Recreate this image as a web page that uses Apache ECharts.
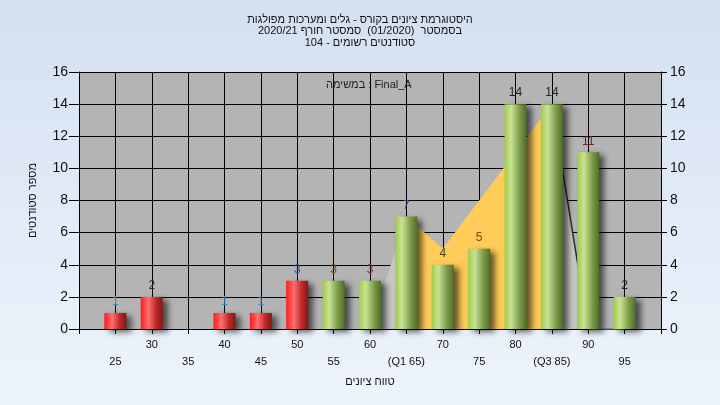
<!DOCTYPE html>
<html>
<head>
<meta charset="utf-8">
<script src="https://cdn.jsdelivr.net/npm/echarts@6/dist/echarts.min.js"></script>
<style>
html,body{margin:0;padding:0;}
#c{width:720px;height:405px;}
</style>
</head>
<body>
<div id="c"></div>
<script>
// ---- data ----
var gradeBins = [25, 30, 35, 40, 45, 50, 55, 60, 65, 70, 75, 80, 85, 90, 95];
var studentCounts = [1, 2, 0, 1, 1, 3, 3, 3, 7, 4, 5, 14, 14, 11, 2];
var passThreshold = 55;
var xTickValues = [25, 30, 35, 40, 45, 50, 55, 60, 65, 70, 75, 80, 85, 90, 95];
var xTickLabels = ['25', '30', '35', '40', '45', '50', '55', '60', '(Q1 65)', '70', '75', '80', '(Q3 85)', '90', '95'];
var shapeX = [60, 65, 70, 85, 90, 95];
var shapeY = [0, 7, 5, 14, 0, 0];
var q1 = 65, q3 = 85;
var titleLines = ['היסטוגרמת ציונים בקורס - גלים ומערכות מפולגות', 'בסמסטר  (01/2020)  סמסטר חורף 2020/21', 'סטודנטים רשומים - 104'];
var legendText = 'במשימה : Final_A';
var yAxisName = 'מספר סטודנטים';
var xAxisName = 'טווח ציונים';

// ---- styles ----
var labelColors = ['#4a86c0', '#3a3020', '#000', '#4a86c0', '#4a86c0', '#2a5aa8', '#7a4a20', '#6a3a4a', '#30306a', '#4a4020', '#6a5020', '#202020', '#302020', '#7a2020', '#202040'];
var FONT = "'Liberation Sans', 'DejaVu Sans', sans-serif";
var redGrad = {type:'linear', x:0, y:0, x2:1, y2:0, colorStops:[
  {offset:0, color:'#ff1a1a'}, {offset:0.35, color:'#ff7070'}, {offset:0.7, color:'#c02828'}, {offset:1, color:'#801818'}]};
var greenGrad = {type:'linear', x:0, y:0, x2:1, y2:0, colorStops:[
  {offset:0, color:'#a2cc44'}, {offset:0.3, color:'#c8e296'}, {offset:0.7, color:'#7a9a48'}, {offset:1, color:'#506c2a'}]};

var barData = [];
gradeBins.forEach(function (g, i) {
  if (!studentCounts[i]) return;
  barData.push({
    value: [g, studentCounts[i]],
    itemStyle: {color: g < passThreshold ? redGrad : greenGrad},
    label: {color: labelColors[i]}
  });
});

var sx0 = shapeX[0], sx1 = shapeX[shapeX.length - 1];
var s1 = (q1 - sx0) / (sx1 - sx0), s2 = (q3 - sx0) / (sx1 - sx0);
var areaGrad = {type:'linear', x:0, y:0, x2:1, y2:0, colorStops:[
  {offset:0, color:'#c6c6c6'}, {offset:s1, color:'#c6c6c6'}, {offset:s1, color:'#ffcc58'},
  {offset:s2, color:'#ffcc58'}, {offset:s2, color:'#c6c6c6'}, {offset:1, color:'#c6c6c6'}]};
var shapeData = shapeX.map(function (x, i) { return [x, shapeY[i]]; });
var q3Idx = shapeX.indexOf(q3);
var tailLine = shapeData.slice(q3Idx, q3Idx + 2);
var baseLine = shapeData.slice(q3Idx + 1);

var tickLabelMap = {};
xTickValues.forEach(function (v, i) { tickLabelMap[v] = xTickLabels[i]; });
function tickFormatter(odd) {
  return function (v) {
    var t = tickLabelMap[v];
    if (t === undefined) return '';
    return ((v % 10 === 5) === odd) ? t : '';
  };
}

var chart = echarts.init(document.getElementById('c'));
chart.setOption({
  animation: false,
  backgroundColor: {type:'linear', x:0, y:0, x2:0, y2:1, colorStops:[{offset:0, color:'#d4e0f1'}, {offset:1, color:'#eef4fc'}]},
  textStyle: {fontFamily: FONT},
  title: {
    text: titleLines.join('\n'), left: 'center', top: 9,
    textStyle: {fontSize: 11, lineHeight: 11.5, fontWeight: 'normal', color: '#111', fontFamily: FONT}
  },
  graphic: [{
    type: 'text', left: 326, top: 79,
    style: {text: legendText, font: '11px ' + FONT, fill: '#222'}
  }],
  grid: {left: 79, right: 59, top: 72, bottom: 76, show: true, backgroundColor: '#b4b4b4', borderWidth: 0},
  xAxis: [{
    type: 'value', min: 20, max: 100, interval: 5, position: 'bottom',
    name: xAxisName, nameLocation: 'middle', nameGap: 47,
    nameTextStyle: {fontSize: 11, color: '#111', fontFamily: FONT},
    axisLine: {lineStyle: {color: '#000', width: 1}},
    axisTick: {length: 5, lineStyle: {color: '#000'}},
    splitLine: {show: true, lineStyle: {color: '#000', width: 1}},
    axisLabel: {fontSize: 11, color: '#111', margin: 10, hideOverlap: false, formatter: tickFormatter(false)}
  }, {
    type: 'value', min: 20, max: 100, interval: 5, position: 'bottom', offset: 0,
    axisLine: {show: false}, axisTick: {show: false}, splitLine: {show: false},
    axisLabel: {fontSize: 11, color: '#111', margin: 27, hideOverlap: false, formatter: tickFormatter(true)}
  }],
  yAxis: [{
    type: 'value', min: 0, max: 16, interval: 2, position: 'left',
    name: yAxisName, nameLocation: 'middle', nameGap: 41, nameRotate: 90,
    nameTextStyle: {fontSize: 11, color: '#111', fontFamily: FONT},
    axisLine: {show: true, lineStyle: {color: '#000'}},
    axisTick: {show: true, length: 10, lineStyle: {color: '#000'}},
    splitLine: {show: true, lineStyle: {color: '#000', width: 1}},
    axisLabel: {fontSize: 14, color: '#111', margin: 11}
  }, {
    type: 'value', min: 0, max: 16, interval: 2, position: 'right',
    axisLine: {show: true, lineStyle: {color: '#000'}},
    axisTick: {show: true, length: 6, lineStyle: {color: '#000'}},
    splitLine: {show: false},
    axisLabel: {fontSize: 14, color: '#111', margin: 9}
  }],
  series: [{
    type: 'line', data: shapeData, symbol: 'none', z: 1, xAxisIndex: 0, yAxisIndex: 0,
    lineStyle: {width: 0, opacity: 0},
    areaStyle: {color: areaGrad, opacity: 1}
  }, {
    type: 'line', data: tailLine, symbol: 'none', z: 1, xAxisIndex: 0, yAxisIndex: 0,
    lineStyle: {color: '#2a2a2a', width: 1.5}
  }, {
    type: 'line', data: baseLine, symbol: 'none', z: 1, xAxisIndex: 0, yAxisIndex: 0,
    lineStyle: {color: '#808080', width: 1.5}
  }, {
    type: 'bar', data: barData, barWidth: 22, z: 3, xAxisIndex: 0, yAxisIndex: 0,
    itemStyle: {shadowColor: 'rgba(0,0,0,0.6)', shadowBlur: 6, shadowOffsetX: 5, shadowOffsetY: 3},
    label: {show: true, position: 'top', distance: 5, fontSize: 12, fontFamily: FONT}
  }]
});
</script>
</body>
</html>
